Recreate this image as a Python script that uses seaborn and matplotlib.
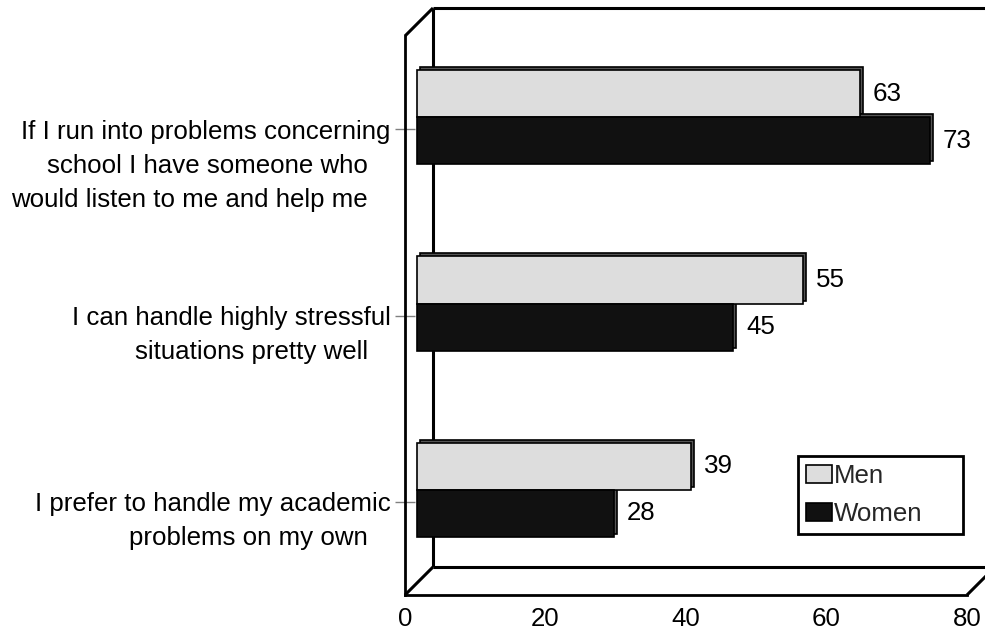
import numpy as np
import pandas as pd
import matplotlib
matplotlib.use("Agg")
import matplotlib.pyplot as plt
import seaborn as sns
from matplotlib.transforms import ScaledTranslation
from matplotlib.patches import Patch, Rectangle

# ---- data ----
label_lines = [
    ["If I run into problems concerning", "school I have someone who", "would listen to me and help me"],
    ["I can handle highly stressful", "situations pretty well"],
    ["I prefer to handle my academic", "problems on my own"],
]
categories = [" ".join(l) for l in label_lines]
groups = ["Men", "Women"]
men = [63, 55, 39]
women = [73, 45, 28]
xticks = [0, 20, 40, 60, 80]

df = pd.DataFrame({
    "item": categories * 2,
    "group": ["Men"] * len(men) + ["Women"] * len(women),
    "value": men + women,
})
colors = {"Men": "#dddddd", "Women": "#111111"}

sns.set_theme(style="white")
plt.rcParams["font.family"] = ["Liberation Sans", "DejaVu Sans"]
FS = 18.6

W, H = 985, 633
fig = plt.figure(figsize=(W / 100, H / 100), dpi=100)
L, R, T, B = 405, 967, 36, 595
ax = fig.add_axes([L / W, 1 - B / H, (R - L) / W, (B - T) / H])
ax.set_facecolor("none")

sns.barplot(data=df, y="item", x="value", hue="group", order=categories,
            hue_order=groups, palette=colors, orient="h", width=0.505,
            edgecolor="black", linewidth=1.2, ax=ax, legend=False, zorder=3)

ax.set_xlim(0, 80)
ax.set_ylim(len(categories) - 0.5, -0.5)

# 3D-style shift of bars and their depth face
shift = ScaledTranslation(12 / 100, 12 / 100, fig.dpi_scale_trans)
depth = ScaledTranslation(15 / 100, 15 / 100, fig.dpi_scale_trans)
bars = list(ax.patches)
for p in bars:
    sh = Rectangle(p.get_xy(), p.get_width(), p.get_height(),
                   transform=ax.transData + depth, facecolor="#555555",
                   edgecolor="black", linewidth=1.2, zorder=2, clip_on=False)
    ax.add_patch(sh)
    p.set_transform(ax.transData + shift)
    p.set_clip_on(False)
    # value label
    yc = p.get_y() + p.get_height() / 2
    ax.annotate(f"{p.get_width():.0f}", xy=(p.get_width(), yc),
                xytext=(25, 12), textcoords="offset pixels",
                ha="left", va="center", fontsize=FS, color="black",
                annotation_clip=False)

# axes frame: front plane + back wall (pseudo 3D)
for s in ["top", "right"]:
    ax.spines[s].set_visible(False)
for s in ["left", "bottom"]:
    ax.spines[s].set_color("black")
    ax.spines[s].set_linewidth(2)
dx = 28 / (R - L)
dy = 28 / (B - T)
kw = dict(transform=ax.transAxes, color="black", lw=2.2, clip_on=False, zorder=1,
          solid_capstyle="butt")
ax.plot([dx, dx], [dy, 1 + dy], **kw)
ax.plot([dx, 1 + dx], [1 + dy, 1 + dy], **kw)
ax.plot([dx, 1 + dx], [dy, dy], **kw)
ax.plot([1 + dx, 1 + dx], [dy, 1 + dy], **kw)
ax.plot([0, dx], [0, dy], **kw)
ax.plot([0, dx], [1, 1 + dy], **kw)
ax.plot([1, 1 + dx], [0, dy], **kw)

# ticks
ax.set_xticks(xticks)
ax.set_xticklabels([str(t) for t in xticks])
ax.tick_params(axis="x", length=0, pad=9, labelsize=FS, labelcolor="black")
ax.set_yticks(range(len(categories)))
ax.set_yticklabels([l[0] for l in label_lines])
ax.tick_params(axis="y", direction="inout", length=15, width=1, color="#808080",
               pad=3, labelsize=FS, labelcolor="black", left=True)
for i, lines in enumerate(label_lines):
    for k, line in enumerate(lines[1:], start=1):
        ax.annotate(line, xy=(0, i), xycoords=("axes fraction", "data"),
                    xytext=(-37, -34 * k), textcoords="offset pixels",
                    ha="right", va="center_baseline", fontsize=FS, color="black",
                    annotation_clip=False)
ax.set_xlabel("")
ax.set_ylabel("")

# legend
handles = [Patch(facecolor=colors[g], edgecolor="black", linewidth=1.2, label=g) for g in groups]
leg = ax.legend(handles=handles, loc="upper left", mode="expand",
                bbox_to_anchor=(798 / W, 1 - 456 / H, 165 / W, 0), bbox_transform=fig.transFigure,
                borderaxespad=0, frameon=True, fancybox=False, framealpha=1,
                edgecolor="black", fontsize=FS, handlelength=1.0, handleheight=0.7,
                handletextpad=0.1, labelspacing=0.55, borderpad=0.3)
leg.get_frame().set_linewidth(2)
leg.set_zorder(5)

fig.savefig("out.png", dpi=100)
